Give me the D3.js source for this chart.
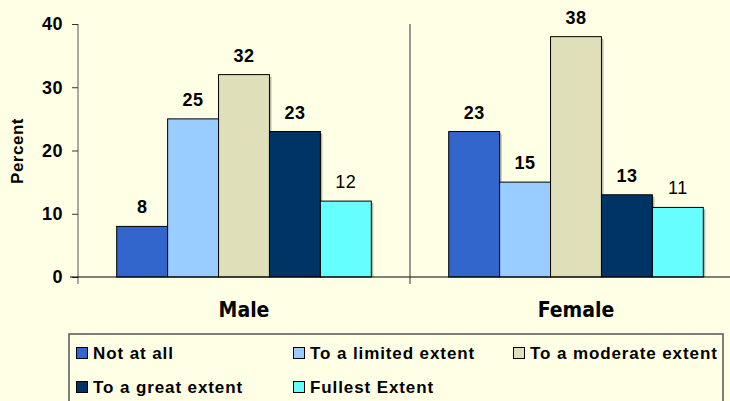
<!DOCTYPE html>
<html><head><meta charset="utf-8">
<script src="https://cdn.jsdelivr.net/npm/d3@7"></script>
<style>body{margin:0;background:#FFFFE6;} svg{display:block;}</style>
</head><body>
<script>
const categories = ["Male", "Female"];
const seriesNames = ["Not at all", "To a limited extent", "To a moderate extent", "To a great extent", "Fullest Extent"];
const seriesColors = ["#3366CC", "#99CCFF", "#DFDFB9", "#003366", "#66FFFF"];
const maleValues = [8, 25, 32, 23, 12];
const femaleValues = [23, 15, 38, 13, 11];
const yTicks = [0, 10, 20, 30, 40];
const boldLabel = [true, true, true, true, false];

const W = 730, H = 401;
const svg = d3.select("body").append("svg").attr("width", W).attr("height", H);
svg.append("rect").attr("width", W).attr("height", H).attr("fill", "#FFFFE6");

const y = d3.scaleLinear().domain([0, 40]).range([277, 24]);
const x0 = d3.scaleBand().domain(categories).range([78, 742]);
const x1 = d3.scaleBand().domain(d3.range(seriesNames.length)).range([0, x0.bandwidth()]).paddingOuter(0.76).paddingInner(0);

const data = categories.map((c, i) => ({cat: c, vals: i === 0 ? maleValues : femaleValues}));
const arial = "Liberation Sans, Arial, sans-serif";

// bars
const g = svg.append("g");
data.forEach(d => {
  d.vals.forEach((v, j) => {
    const bx = x0(d.cat) + x1(j);
    g.append("rect").attr("x", bx + 2).attr("y", y(v) + 2).attr("width", x1.bandwidth()).attr("height", y(0) - y(v) - 2)
      .attr("fill", "#8a8a7a").attr("opacity", 0.6);
    g.append("rect").attr("x", bx).attr("y", y(v)).attr("width", x1.bandwidth()).attr("height", y(0) - y(v))
      .attr("fill", seriesColors[j]).attr("stroke", "#000").attr("stroke-width", 1);
    g.append("text").attr("x", bx + x1.bandwidth() / 2).attr("y", y(v) - 13)
      .attr("text-anchor", "middle").attr("font-family", arial).attr("letter-spacing", 0.5)
      .attr("font-size", 18).attr("font-weight", boldLabel[j] ? "bold" : "normal").attr("fill", "#000").text(v);
  });
});

// axes
const yAxis = d3.axisLeft(y).tickValues(yTicks).tickSize(6).tickPadding(9);
const ya = svg.append("g").attr("transform", "translate(78,0)").call(yAxis);
ya.select(".domain").attr("stroke", "#555").attr("d", "M0,24V284");
ya.selectAll(".tick line").attr("stroke", "#333");
ya.selectAll("text").attr("font-family", arial).attr("font-size", 18).attr("letter-spacing", 0.5).attr("font-weight", "bold").attr("fill", "#000");

// baseline
svg.append("line").attr("x1", 70).attr("x2", 730).attr("y1", y(0)).attr("y2", y(0)).attr("stroke", "#000");
// category separator
svg.append("line").attr("x1", x0("Female")).attr("x2", x0("Female")).attr("y1", 24).attr("y2", 284).attr("stroke", "#333");

// category labels
categories.forEach(c => {
  svg.append("text").attr("x", x0(c) + x0.bandwidth() / 2).attr("y", 317).attr("text-anchor", "middle")
    .attr("font-family", "DejaVu Sans Condensed, DejaVu Sans, sans-serif").attr("font-stretch", "condensed")
    .attr("font-weight", "bold").attr("font-size", 21).attr("fill", "#000").text(c);
});

// y title
svg.append("text").attr("transform", "translate(23,151) rotate(-90)").attr("text-anchor", "middle")
  .attr("font-family", arial).attr("font-weight", "bold").attr("font-size", 17).attr("letter-spacing", 0.5).attr("fill", "#000").text("Percent");

// legend
const lg = svg.append("g");
lg.append("rect").attr("x", 69).attr("y", 334).attr("width", 654).attr("height", 80).attr("fill", "#FFFFE6").attr("stroke", "#555").attr("stroke-width", 1.5);
const legPos = [[76, 347], [293, 347], [513, 347], [76, 381], [293, 381]];
seriesNames.forEach((n, j) => {
  const [lx, ly] = legPos[j];
  lg.append("rect").attr("x", lx + 0.5).attr("y", ly + 0.5).attr("width", 11).attr("height", 11).attr("fill", seriesColors[j]).attr("stroke", "#000");
  lg.append("text").attr("x", lx + 17).attr("y", ly + 11.5).attr("font-family", arial)
    .attr("font-weight", "bold").attr("font-size", 17).attr("letter-spacing", 0.9).attr("fill", "#000").text(n);
});
</script>
</body></html>
